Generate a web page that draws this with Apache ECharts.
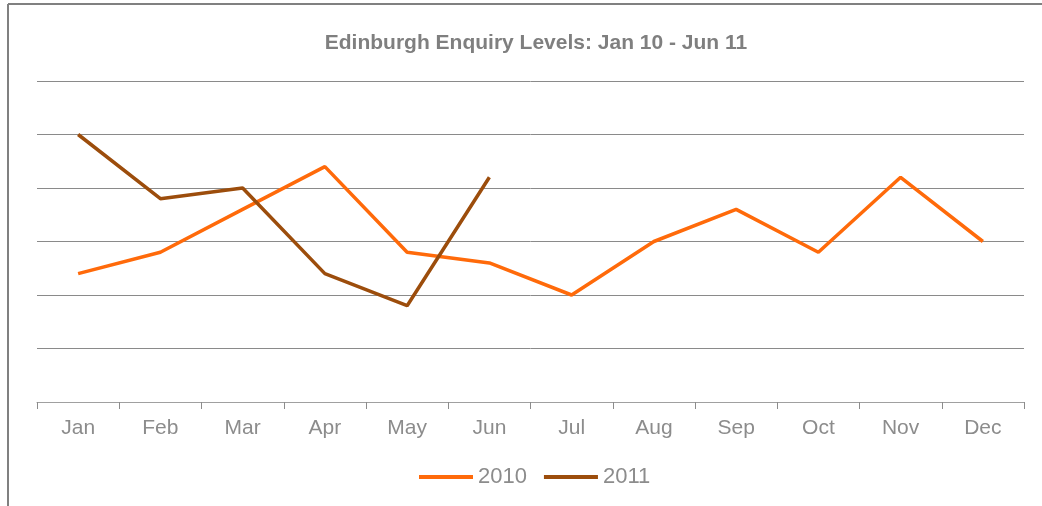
<!DOCTYPE html>
<html>
<head>
<meta charset="utf-8">
<script src="https://cdn.jsdelivr.net/npm/echarts@6/dist/echarts.min.js"></script>
<style>
  html, body { margin: 0; padding: 0; background: #fff; }
  #chart { width: 1042px; height: 506px; }
</style>
</head>
<body>
<div id="chart"></div>
<script>
// 数据
const months = ['Jan', 'Feb', 'Mar', 'Apr', 'May', 'Jun', 'Jul', 'Aug', 'Sep', 'Oct', 'Nov', 'Dec'];
const levels2010 = [2.4, 2.8, 3.6, 4.4, 2.8, 2.6, 2.0, 3.0, 3.6, 2.8, 4.2, 3.0];
const levels2011 = [5.0, 3.8, 4.0, 2.4, 1.8, 4.2];

const chart = echarts.init(document.getElementById('chart'));

const option = {
    animation: false,
    backgroundColor: '#fff',
    title: {
        text: 'Edinburgh Enquiry Levels: Jan 10 - Jun 11',
        left: 531,
        textAlign: 'center',
        top: 28,
        textStyle: { fontFamily: 'Liberation Sans', fontSize: 21, fontWeight: 'bold', color: '#7f7f7f' }
    },
    legend: {
        bottom: 13,
        left: 414,
        itemWidth: 54,
        itemHeight: 4,
        itemGap: 17,
        icon: 'rect',
        textStyle: { fontFamily: 'Liberation Sans', fontSize: 22, color: '#8c8c8c' },
        data: ['2010', '2011']
    },
    grid: { left: 37, right: 18, top: 81, bottom: 104 },
    xAxis: {
        type: 'category',
        data: months,
        boundaryGap: true,
        axisLine: { lineStyle: { color: '#a0a0a0', width: 1 } },
        axisTick: { show: true, interval: 0, length: 7, lineStyle: { color: '#8c8c8c' } },
        axisLabel: { margin: 16, fontFamily: 'Liberation Sans', fontSize: 21, color: '#8c8c8c' }
    },
    yAxis: {
        type: 'value',
        min: 0,
        max: 6,
        interval: 1,
        axisLabel: { show: false },
        axisLine: { show: false },
        axisTick: { show: false },
        splitLine: { lineStyle: { color: '#8a8a8a', width: 1 } }
    },
    series: [
        {
            name: '2010',
            type: 'line',
            data: levels2010,
            symbol: 'none',
            color: '#ff6a0a',
            lineStyle: { width: 3.5, color: '#ff6a0a' }
        },
        {
            name: '2011',
            type: 'line',
            data: levels2011,
            symbol: 'none',
            color: '#9c4d0c',
            lineStyle: { width: 3.5, color: '#9c4d0c' }
        }
    ],
    graphic: [
        // 外框
        { type: 'line', shape: { x1: 8, y1: 4, x2: 1042, y2: 4 }, style: { stroke: '#808080', lineWidth: 2 } },
        { type: 'line', shape: { x1: 8, y1: 4, x2: 8, y2: 506 }, style: { stroke: '#808080', lineWidth: 2 } }
    ]
};

chart.setOption(option);
</script>
</body>
</html>
